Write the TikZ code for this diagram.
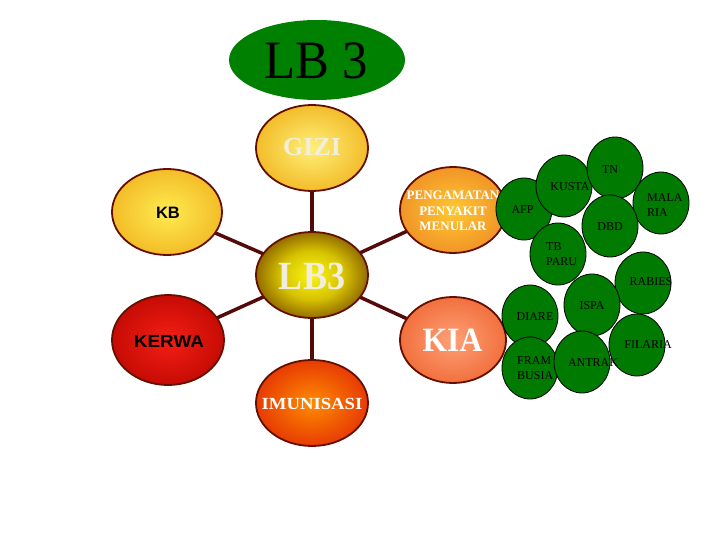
\documentclass[tikz,border=0pt]{standalone}
\usepackage{fontspec}
\setmainfont{Liberation Serif}
\newfontfamily\arialf{Liberation Sans}
\usetikzlibrary{shapes.geometric}
\definecolor{lbgreen}{RGB}{0,128,0}
\definecolor{cgreen}{RGB}{0,122,0}
\definecolor{rim}{RGB}{100,15,0}
\definecolor{spoke}{RGB}{85,10,10}
\definecolor{giziIn}{RGB}{255,240,120}\definecolor{giziOut}{RGB}{238,170,15}
\definecolor{kbIn}{RGB}{255,235,80}\definecolor{kbOut}{RGB}{238,172,25}
\definecolor{pgIn}{RGB}{255,200,50}\definecolor{pgOut}{RGB}{236,130,35}
\definecolor{lbIn}{RGB}{250,245,20}\definecolor{lbMid}{RGB}{215,195,0}\definecolor{lbOut}{RGB}{85,30,0}
\definecolor{kwIn}{RGB}{245,30,20}\definecolor{kwOut}{RGB}{180,5,0}
\definecolor{kiaIn}{RGB}{255,160,120}\definecolor{kiaOut}{RGB}{236,95,40}
\definecolor{imIn}{RGB}{255,140,0}\definecolor{imOut}{RGB}{222,30,5}
\definecolor{paletext}{RGB}{242,238,222}
\pgfdeclareradialshading{giziS}{\pgfpoint{0bp}{0bp}}{color(0bp)=(giziIn); color(34bp)=(giziOut); color(50bp)=(giziOut)}
\pgfdeclareradialshading{kbS}{\pgfpoint{0bp}{0bp}}{color(0bp)=(kbIn); color(34bp)=(kbOut); color(50bp)=(kbOut)}
\pgfdeclareradialshading{pgS}{\pgfpoint{0bp}{0bp}}{color(0bp)=(pgIn); color(34bp)=(pgOut); color(50bp)=(pgOut)}
\pgfdeclareradialshading{lbS}{\pgfpoint{0bp}{0bp}}{color(0bp)=(lbIn); color(14bp)=(lbMid); color(35bp)=(lbOut); color(50bp)=(lbOut)}
\pgfdeclareradialshading{kwS}{\pgfpoint{0bp}{0bp}}{color(0bp)=(kwIn); color(34bp)=(kwOut); color(50bp)=(kwOut)}
\pgfdeclareradialshading{kiaS}{\pgfpoint{0bp}{0bp}}{color(0bp)=(kiaIn); color(34bp)=(kiaOut); color(50bp)=(kiaOut)}
\pgfdeclareradialshading{imS}{\pgfpoint{0bp}{0bp}}{color(0bp)=(imIn); color(34bp)=(imOut); color(50bp)=(imOut)}
\pgfdeclarelayer{bg}
\pgfsetlayers{bg,main}
\tikzset{
  blob/.style={ellipse, inner sep=0pt, draw=rim, line width=1.8pt, minimum width=112pt, minimum height=86pt},
  gcirc/.style={ellipse, inner sep=0pt, fill=cgreen, draw=black, line width=0.8pt, minimum width=56pt, minimum height=62pt},
  gtext/.style={inner sep=0pt, font=\fontsize{12}{15}\selectfont, text=black},
  gtextl/.style={gtext, align=left, anchor=west},
  wtext/.style={inner sep=0pt, text=white},
  spokeline/.style={draw=spoke, line width=3.5pt}
}
\begin{document}
\begin{tikzpicture}[x=1pt,y=-1pt]
\path[use as bounding box] (0,0) rectangle (720,540);
% title
\node[ellipse, fill=lbgreen, minimum width=176pt, minimum height=80pt, inner sep=0pt] (top) at (317,60) {};
\node[inner sep=0pt, font=\fontsize{54}{60}\selectfont] at (316,61) {\scalebox{0.94}[1]{LB 3}};
% main blobs
\node[blob, shading=lbS] (lb) at (312,275) {};
\node[blob, shading=giziS] (gizi) at (312,148) {};
\node[blob, shading=kbS, minimum width=110pt] (kb) at (167,212) {};
\node[blob, shading=pgS, minimum width=106pt] (pg) at (453,210) {};
\node[blob, shading=kwS, minimum height=90pt] (kw) at (168,340) {};
\node[blob, shading=kiaS, minimum width=106pt] (kia) at (453,340) {};
\node[blob, shading=imS] (im) at (312,403) {};
\begin{pgfonlayer}{bg}
  \foreach \n in {gizi,kb,pg,kw,kia,im} \draw[spokeline] (lb.center) -- (\n.center);
\end{pgfonlayer}
% blob texts
\node[inner sep=0pt, text=paletext, font=\bfseries\fontsize{40}{44}\selectfont] at (312,276) {\scalebox{0.9}[1]{LB3}};
\node[wtext, text=paletext, font=\bfseries\fontsize{26}{30}\selectfont] at (312,147) {GIZI};
\node[inner sep=0pt, font=\arialf\bfseries\fontsize{16.5}{20}\selectfont] at (168,212.5) {KB};
\node[wtext, align=center, font=\bfseries\fontsize{13}{15.5}\selectfont] at (453,211) {PENGAMATAN\\PENYAKIT\\MENULAR};
\node[inner sep=0pt, font=\arialf\bfseries\fontsize{17.5}{20}\selectfont] at (169,341) {\scalebox{1.08}[1]{KERWA}};
\node[wtext, font=\bfseries\fontsize{34}{38}\selectfont] at (452.5,340.5) {\scalebox{0.93}[1]{KIA}};
\node[wtext, font=\bfseries\fontsize{17}{20}\selectfont] at (312,404) {\scalebox{1.1}[1]{IMUNISASI}};
% green circles
\node[gcirc] (afp) at (524,209) {};
\node[gcirc] (kusta) at (564,186) {};
\node[gcirc] (tn) at (615,168) {};
\node[gcirc] (mal) at (661,203) {};
\node[gcirc] (dbd) at (610,226) {};
\node[gcirc] (tb) at (558,254) {};
\node[gcirc] (rab) at (643,283) {};
\node[gcirc] (ispa) at (592,305) {};
\node[gcirc] (diare) at (530,316) {};
\node[gcirc] (fram) at (530,368) {};
\node[gcirc] (antrak) at (582,362) {};
\node[gcirc] (fil) at (637,345) {};
% green texts
\node[gtext] at (522.5,210) {AFP};
\node[gtext] at (570,187) {KUSTA};
\node[gtext] at (610,170) {TN};
\node[gtextl] at (647,205) {MALA\\RIA};
\node[gtext] at (610,227) {DBD};
\node[gtextl] at (546,254.5) {TB\\PARU};
\node[gtext] at (651,282) {RABIES};
\node[gtext] at (592,306) {ISPA};
\node[gtext] at (535,317) {DIARE};
\node[gtextl] at (517,368) {FRAM\\BUSIA};
\node[gtext] at (593,363) {ANTRAK};
\node[gtext] at (648,345) {FILARIA};
\end{tikzpicture}
\end{document}
